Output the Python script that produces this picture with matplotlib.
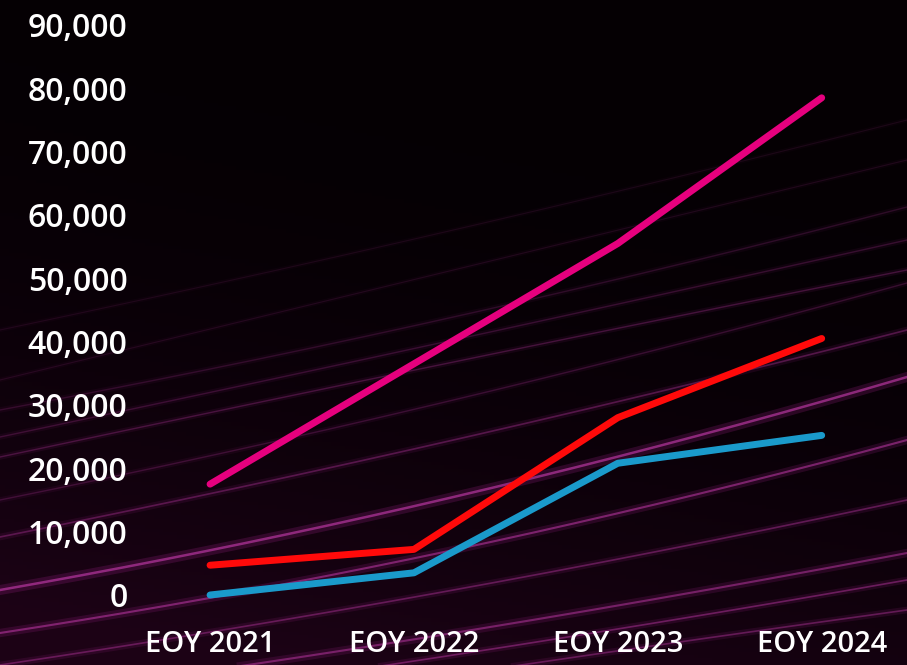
import matplotlib.pyplot as plt
import numpy as np

years = ["EOY 2021", "EOY 2022", "EOY 2023", "EOY 2024"]
magenta_vals = [17500, 36500, 55500, 78500]
red_vals = [4700, 7200, 28000, 40500]
blue_vals = [0, 3500, 20800, 25200]
yticks = [0, 10000, 20000, 30000, 40000, 50000, 60000, 70000, 80000, 90000]

# background streaks: pixel y at left edge, middle, right edge, alpha, width
streaks = [
    (330, 230, 120, 0.10, 0.8),
    (380, 270, 160, 0.12, 0.8),
    (410, 317, 207, 0.18, 1.0),
    (437, 340, 240, 0.22, 1.0),
    (457, 362, 270, 0.28, 1.0),
    (500, 400, 283, 0.22, 1.0),
    (537, 440, 330, 0.35, 1.2),
    (590, 497, 377, 0.65, 1.8),
    (633, 550, 440, 0.55, 1.5),
    (665, 590, 500, 0.40, 1.2),
    (700, 633, 553, 0.50, 1.5),
    (720, 655, 580, 0.45, 1.2),
    (745, 675, 610, 0.40, 1.2),
]

fig = plt.figure(figsize=(9.07, 6.65), dpi=100)
fig.patch.set_facecolor("#050004")

bg = fig.add_axes([0, 0, 1, 1])
bg.set_xlim(0, 907)
bg.set_ylim(665, 0)
bg.axis("off")
gy, gx = np.mgrid[0:1:200j, 0:1:200j]
glow = np.clip(gy * 1.1 - gx * 0.3, 0, 1) ** 2
img = np.zeros((200, 200, 3))
img[..., 0] = 0.02 + 0.09 * glow
img[..., 1] = 0.0 + 0.01 * glow
img[..., 2] = 0.015 + 0.07 * glow
bg.imshow(img, extent=[0, 907, 665, 0], aspect="auto", zorder=0)
xs = np.linspace(0, 907, 200)
for yl, ym, yr, a, w in streaks:
    coef = np.polyfit([0, 453.5, 907], [yl, ym, yr], 2)
    ys = np.polyval(coef, xs)
    bg.plot(xs, ys, color="#a0208a", alpha=a * 0.35, lw=w * 4, zorder=1)
    bg.plot(xs, ys, color="#c03aa8", alpha=a, lw=w, zorder=1)

ax = fig.add_axes([0.15, 0.0752, 0.80, 0.9098])
ax.patch.set_alpha(0)
x = np.arange(len(years))
ax.plot(x, magenta_vals, color="#e6007e", lw=5, solid_capstyle="round", solid_joinstyle="round")
ax.plot(x, red_vals, color="#ff0a0a", lw=5, solid_capstyle="round", solid_joinstyle="round")
ax.plot(x, blue_vals, color="#1a9acb", lw=5, solid_capstyle="round", solid_joinstyle="round")

ax.set_xlim(-0.363, 3.196)
ax.set_ylim(-3158, 92368)
ax.set_xticks(x)
ax.set_xticklabels(years)
ax.set_yticks(yticks)
ax.set_yticklabels([f"{v:,}" for v in yticks])
for s in ax.spines.values():
    s.set_visible(False)
ax.tick_params(axis="both", length=0, colors="white")
ax.tick_params(axis="y", pad=6)
ax.tick_params(axis="x", pad=11)
for lab in ax.get_yticklabels():
    lab.set_fontfamily("Open Sans")
    lab.set_fontweight("semibold")
    lab.set_fontsize(23)
    lab.set_color("white")
for lab in ax.get_xticklabels():
    lab.set_fontfamily("Open Sans")
    lab.set_fontweight("semibold")
    lab.set_fontsize(21)
    lab.set_color("white")

fig.savefig("out.png", dpi=100, facecolor=fig.get_facecolor())
